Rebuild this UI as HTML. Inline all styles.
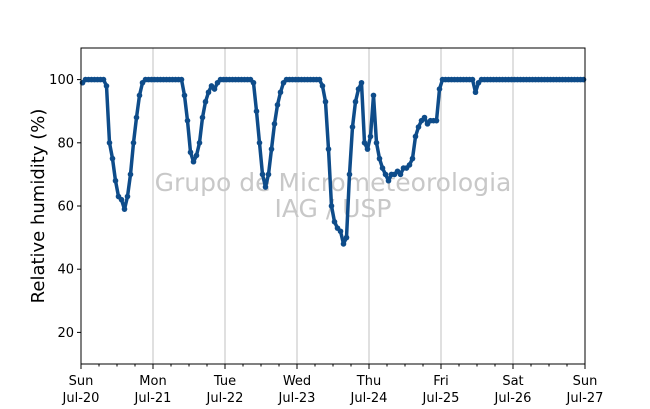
<!DOCTYPE html>
<html><head><meta charset="utf-8"><style>
body{margin:0;background:#fff;}
svg{display:block;font-family:"DejaVu Sans","Liberation Sans",sans-serif;}
</style></head><body>
<svg id="chart" width="650" height="409">
<rect x="0" y="0" width="650" height="409" fill="#fff"/>
<g id="grid"></g>
<text x="333" y="191" text-anchor="middle" font-size="25" fill="#c8c8c8">Grupo de Micrometeorologia</text>
<text x="333" y="217" text-anchor="middle" font-size="25" fill="#c8c8c8">IAG / USP</text>
<g id="series"></g>
<rect x="81" y="48" width="504" height="316" fill="none" stroke="#000" stroke-width="1"/>
<g id="axes"></g>
<text transform="translate(44,206) rotate(-90)" text-anchor="middle" font-size="18" fill="#000">Relative humidity (%)</text>
</svg>
<script>
const dayLabels = ["Sun","Mon","Tue","Wed","Thu","Fri","Sat","Sun"];
const dateLabels = ["Jul-20","Jul-21","Jul-22","Jul-23","Jul-24","Jul-25","Jul-26","Jul-27"];
const yTicks = [20,40,60,80,100];
// hourly relative humidity, day by day (24 values each)
const rhSun = [99,100,100,100,100,100,100,100,98,80,75,68,63,62,59,63,70,80,88,95,99,100,100,100];
const rhMon = [100,100,100,100,100,100,100,100,100,100,95,87,77,74,76,80,88,93,96,98,97,99,100,100];
const rhTue = [100,100,100,100,100,100,100,100,100,99,90,80,70,66,70,78,86,92,96,99,100,100,100,100];
const rhWed = [100,100,100,100,100,100,100,100,98,93,78,60,55,53,52,48,50,70,85,93,97,99,80,78];
const rhThu = [82,95,80,75,72,70,68,70,70,71,70,72,72,73,75,82,85,87,88,86,87,87,87,97];
const rhFri = [100,100,100,100,100,100,100,100,100,100,100,96,99,100,100,100,100,100,100,100,100,100,100,100];
const rhSat = [100,100,100,100,100,100,100,100,100,100,100,100,100,100,100,100,100,100,100,100,100,100,100,100];
const rh = [].concat(rhSun,rhMon,rhTue,rhWed,rhThu,rhFri,rhSat);

const X0=81, X1=585, Y0=364, Y1=48, YMIN=10, YMAX=110, HOURS=168;
const xs = h => X0 + (X1-X0)*h/HOURS;
const ys = v => Y0 - (Y0-Y1)*(v-YMIN)/(YMAX-YMIN);
const NS="http://www.w3.org/2000/svg";
function mk(tag, attrs, parent){const e=document.createElementNS(NS,tag);for(const k in attrs)e.setAttribute(k,attrs[k]);parent.appendChild(e);return e;}
const grid=document.getElementById('grid'), axes=document.getElementById('axes'), series=document.getElementById('series');

for(let d=0; d<dayLabels.length; d++){
  const x=xs(d*24);
  if(d>0 && d<7){
    const g=mk('line',{x1:x,x2:x,y1:Y1,y2:Y0,stroke:'#c0c0c0','stroke-width':1},grid);
    
    
  }
  const t=mk('line',{x1:x,x2:x,y1:Y0,y2:Y0+5,stroke:'#000'},axes);
  
  
  const l1=mk('text',{x:x,y:Y0+21,'text-anchor':'middle','font-size':13},axes);
  l1.textContent=dayLabels[d];
  
  
  const l2=mk('text',{x:x,y:Y0+38,'text-anchor':'middle','font-size':13},axes);
  l2.textContent=dateLabels[d];
  
  
}
for(let h=6; h<HOURS; h+=6){
  if(h%24===0) continue;
  const m=mk('line',{x1:xs(h),x2:xs(h),y1:Y0,y2:Y0+2.5,stroke:'#000'},axes);
  
  
}
yTicks.forEach(v=>{
  const y=ys(v);
  const t=mk('line',{x1:X0-4,x2:X0,y1:y,y2:y,stroke:'#000'},axes);
  
  
  const l=mk('text',{x:X0-7,y:y+4.5,'text-anchor':'end','font-size':13},axes);
  l.textContent=v;
  
  
});
const pts=rh.map((v,i)=>xs(i+0.5)+','+ys(v)).join(' ');
const pl=mk('polyline',{points:pts,fill:'none',stroke:'#0e4c8a','stroke-width':3.5,'stroke-linejoin':'round','stroke-linecap':'round'},series);


rh.forEach((v,i)=>{
  const c=mk('circle',{cx:xs(i+0.5),cy:ys(v),r:2.8,fill:'#0e4c8a'},series);
  
  
});
</script>
</body></html>
